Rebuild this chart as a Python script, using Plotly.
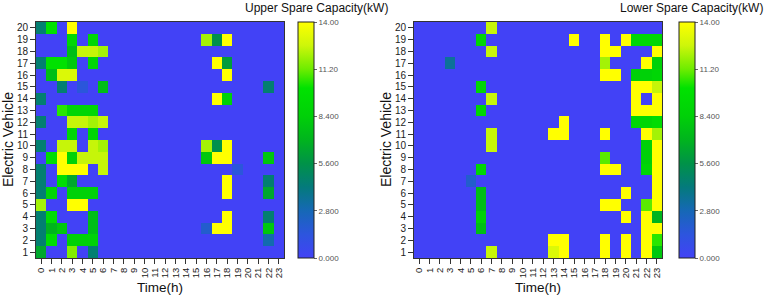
import plotly.graph_objects as go

hours = list(range(24))
vehicles = list(range(1, 21))

# Upper spare capacity (kW): sparse entries {hour: value} per vehicle 1..20
upper_v1 = {0: 6.5, 3: 11.5, 5: 4.5}
upper_v2 = {0: 4.5, 1: 9.5, 3: 8.5, 4: 8.5, 5: 8.5, 22: 3}
upper_v3 = {0: 4.5, 1: 7, 2: 8, 5: 7.5, 16: 2, 17: 14, 18: 14, 22: 8}
upper_v4 = {0: 4.5, 1: 9.5, 5: 7.5, 18: 14, 22: 4.5}
upper_v5 = {0: 12, 3: 14, 4: 14}
upper_v6 = {0: 4.5, 1: 9, 3: 8.5, 4: 8.5, 5: 8.5, 18: 14, 22: 6.5}
upper_v7 = {0: 4.5, 2: 9.5, 3: 6.5, 18: 14, 22: 4.5}
upper_v8 = {0: 4.5, 2: 14, 3: 14, 4: 14, 6: 12.5, 19: 1.5}
upper_v9 = {1: 9.5, 2: 14, 3: 8.5, 4: 12.5, 5: 12.5, 6: 12.5, 16: 8, 17: 14, 18: 14, 22: 8}
upper_v10 = {0: 4.5, 2: 12.5, 3: 12.5, 5: 12.5, 6: 12, 16: 12, 17: 5.5, 18: 14}
upper_v11 = {3: 9, 5: 9}
upper_v12 = {0: 4.5, 3: 12.5, 4: 12.5, 5: 12, 6: 12.5}
upper_v13 = {2: 10.5, 3: 9, 4: 9, 5: 9}
upper_v14 = {0: 4.5, 17: 14, 18: 8.5}
upper_v15 = {2: 4.5, 4: 1.5, 6: 7.5, 22: 4.5}
upper_v16 = {1: 7.5, 2: 13, 3: 13, 18: 14}
upper_v17 = {0: 4.5, 1: 10, 2: 10, 3: 8, 5: 9, 17: 14, 18: 6}
upper_v18 = {3: 7.5, 4: 12.5, 5: 12.5, 6: 12}
upper_v19 = {3: 9, 5: 9, 16: 12, 17: 5.5, 18: 14}
upper_v20 = {0: 4.5, 1: 10, 3: 14}

# Lower spare capacity (kW)
lower_v1 = {7: 12.5, 13: 13, 14: 14, 18: 14, 20: 14, 22: 14, 23: 8}
lower_v2 = {13: 14, 14: 14, 18: 14, 20: 14, 22: 14, 23: 10.5}
lower_v3 = {6: 7.5, 22: 14, 23: 14}
lower_v4 = {6: 8.5, 20: 14, 22: 14, 23: 7}
lower_v5 = {6: 7.5, 18: 14, 19: 14, 22: 11, 23: 14}
lower_v6 = {6: 7.5, 20: 14, 23: 14}
lower_v7 = {5: 2, 23: 14}
lower_v8 = {6: 9, 18: 14, 19: 14, 22: 9, 23: 14}
lower_v9 = {18: 11, 22: 8.5, 23: 14}
lower_v10 = {7: 12.5, 22: 8.5, 23: 14}
lower_v11 = {7: 12.5, 13: 14, 14: 14, 18: 14, 22: 14, 23: 12}
lower_v12 = {14: 14, 21: 9, 22: 9, 23: 9.5}
lower_v13 = {6: 9, 21: 14, 22: 14, 23: 14}
lower_v14 = {7: 12.5, 21: 14, 23: 14}
lower_v15 = {6: 9, 21: 14, 22: 14, 23: 12.5}
lower_v16 = {18: 14, 19: 14, 21: 8.5, 22: 8.5, 23: 9}
lower_v17 = {3: 3.5, 18: 12, 22: 14, 23: 8.5}
lower_v18 = {7: 12.5, 18: 14, 19: 14, 23: 14}
lower_v19 = {6: 9, 15: 14, 18: 14, 20: 14, 21: 9, 22: 9, 23: 9}
lower_v20 = {7: 12.5}

upper_rows = [upper_v1, upper_v2, upper_v3, upper_v4, upper_v5, upper_v6, upper_v7,
              upper_v8, upper_v9, upper_v10, upper_v11, upper_v12, upper_v13, upper_v14,
              upper_v15, upper_v16, upper_v17, upper_v18, upper_v19, upper_v20]
lower_rows = [lower_v1, lower_v2, lower_v3, lower_v4, lower_v5, lower_v6, lower_v7,
              lower_v8, lower_v9, lower_v10, lower_v11, lower_v12, lower_v13, lower_v14,
              lower_v15, lower_v16, lower_v17, lower_v18, lower_v19, lower_v20]

cbar_vals = [0, 2.8, 5.6, 8.4, 11.2, 14]
cbar_text = ["0.000", "2.800", "5.600", "8.400", "11.20", "14.00"]

z_upper = [[r.get(h, 0) for h in hours] for r in upper_rows]
z_lower = [[r.get(h, 0) for h in hours] for r in lower_rows]

cscale = [
    [0.0, "rgb(66,66,246)"],
    [0.1, "rgb(45,85,222)"],
    [0.2, "rgb(22,104,182)"],
    [0.3, "rgb(4,122,124)"],
    [0.4, "rgb(0,146,72)"],
    [0.5, "rgb(0,180,30)"],
    [0.6, "rgb(0,208,8)"],
    [0.72, "rgb(0,226,0)"],
    [0.8, "rgb(110,236,0)"],
    [0.9, "rgb(205,246,10)"],
    [1.0, "rgb(255,255,0)"],
]

W, H = 768, 297
FONT = "Liberation Sans, Arial, sans-serif"

def px_x(p):
    return p / W

def px_y(p):
    return 1 - p / H

top, bot = 22, 258

def cbar(x_left):
    return dict(
        x=px_x(x_left), xanchor="left", xref="paper",
        y=px_y((top + bot) / 2), yanchor="middle", yref="paper",
        len=(bot - top) / H, lenmode="fraction",
        thickness=16, thicknessmode="pixels",
        outlinewidth=1, outlinecolor="#222",
        tickvals=cbar_vals, ticktext=cbar_text,
        ticks="outside", ticklen=3, tickcolor="#666",
        tickfont=dict(family=FONT, size=8, color="#555"),
        xpad=0, ypad=0,
    )

fig = go.Figure()
fig.add_trace(go.Heatmap(z=z_upper, x=hours, y=vehicles, zmin=0, zmax=14,
                         colorscale=cscale, colorbar=cbar(298),
                         xaxis="x", yaxis="y", xgap=0, ygap=0))
fig.add_trace(go.Heatmap(z=z_lower, x=hours, y=vehicles, zmin=0, zmax=14,
                         colorscale=cscale, colorbar=cbar(679),
                         xaxis="x2", yaxis="y2", xgap=0, ygap=0))

xcommon = dict(range=[-0.5, 23.5], tickmode="array", tickvals=hours,
               ticktext=[str(h) for h in hours], tickangle=-90,
               ticks="outside", ticklen=5, tickcolor="#333",
               showline=True, linecolor="#333", linewidth=1, mirror=True,
               showgrid=False, zeroline=False, automargin=False,
               tickfont=dict(family=FONT, size=9.5, color="#222"))
ycommon = dict(range=[0.5, 20.5], tickmode="array", tickvals=vehicles,
               ticks="outside", ticklen=5, tickcolor="#333",
               showline=True, linecolor="#333", linewidth=1, mirror=True,
               showgrid=False, zeroline=False, automargin=False,
               tickfont=dict(family=FONT, size=10, color="#222"))

fig.update_layout(
    width=W, height=H,
    margin=dict(l=0, r=0, t=0, b=0),
    paper_bgcolor="white", plot_bgcolor="white",
    xaxis=dict(domain=[px_x(36), px_x(284)], anchor="y", **xcommon),
    yaxis=dict(domain=[px_y(bot), px_y(top)], anchor="x", **ycommon),
    xaxis2=dict(domain=[px_x(414), px_x(662)], anchor="y2", **xcommon),
    yaxis2=dict(domain=[px_y(bot), px_y(top)], anchor="x2", **ycommon),
    showlegend=False,
)

ann = []
ann.append(dict(text="Upper Spare Capacity(kW)", x=px_x(390), y=px_y(8), xref="paper", yref="paper",
                xanchor="right", yanchor="middle", showarrow=False,
                font=dict(family=FONT, size=12, color="#111")))
ann.append(dict(text="Lower Spare Capacity(kW)", x=px_x(765), y=px_y(8), xref="paper", yref="paper",
                xanchor="right", yanchor="middle", showarrow=False,
                font=dict(family=FONT, size=12, color="#111")))
for cx in (160, 538):
    ann.append(dict(text="Time(h)", x=px_x(cx), y=px_y(287), xref="paper", yref="paper",
                    xanchor="center", yanchor="middle", showarrow=False,
                    font=dict(family=FONT, size=13.5, color="#111")))
for cx in (8, 386):
    ann.append(dict(text="Electric Vehicle", x=px_x(cx), y=px_y(140), xref="paper", yref="paper",
                    xanchor="center", yanchor="middle", showarrow=False, textangle=-90,
                    font=dict(family=FONT, size=14, color="#111")))
fig.update_layout(annotations=ann)

fig.write_html("out.html", config={"displayModeBar": False},
               post_script="document.body.style.margin='0';document.body.style.padding='0';")
